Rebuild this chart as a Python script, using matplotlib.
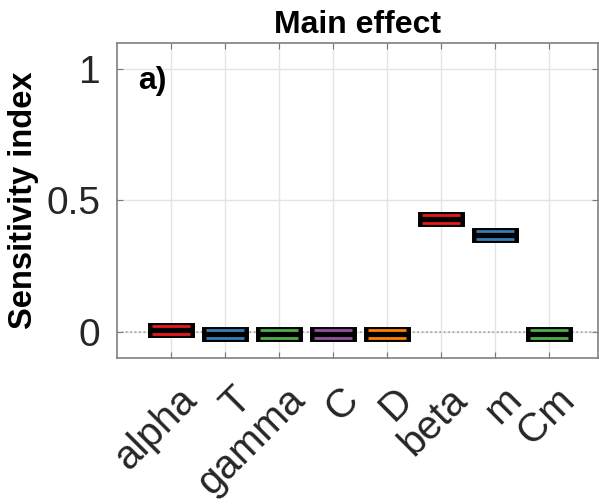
import numpy as np
import matplotlib
matplotlib.use("Agg")
import matplotlib.pyplot as plt
from matplotlib.patches import Rectangle
import matplotlib.transforms as mtransforms

# parameters and the (lower, upper) edges of each box
params = ['alpha', 'T', 'gamma', 'C', 'D', 'beta', 'm', 'Cm']
box_low = [-0.008, -0.023, -0.023, -0.023, -0.023, 0.416, 0.354, -0.023]
box_high = [0.022, 0.005, 0.005, 0.005, 0.005, 0.446, 0.385, 0.005]
colors = ['#e41a1c', '#377eb8', '#4daf4a', '#984ea3', '#ff7f00',
          '#e41a1c', '#377eb8', '#4daf4a']
yticks = [0, 0.5, 1]
yticklabels = ['0', '0.5', '1']

plt.rcParams['font.family'] = ['Liberation Sans', 'DejaVu Sans']

fig = plt.figure(figsize=(5.99, 5.04), dpi=100)
ax = fig.add_axes([0.1953, 0.2897, 0.8030, 0.6250])

ax.set_xlim(0, 8.9)
ax.set_ylim(-0.1, 1.1)

width = 0.74
for i, (lo, hi, c) in enumerate(zip(box_low, box_high, colors)):
    x = i + 1
    ax.add_patch(Rectangle((x - width / 2, lo), width, hi - lo,
                           facecolor='black', edgecolor='black',
                           linewidth=5, zorder=3))
    ax.hlines([lo, hi], x - width / 2 + 0.02, x + width / 2 - 0.02, colors=c,
              linewidth=2.0, zorder=4)

ax.axhline(0, color='#a0a0a0', linestyle=':', linewidth=1.2, zorder=1)

ax.set_xticks(range(1, len(params) + 1))
ax.set_xticklabels(params, rotation=45, ha='right', va='top', fontsize=29)

ax.set_yticks(yticks)
ax.set_yticklabels(yticklabels, fontsize=28)

ax.tick_params(axis='x', direction='in', length=4, pad=16, top=True,
               color='#777777', labelcolor='#262626')
ax.tick_params(axis='y', direction='in', length=4, pad=12, right=True,
               color='#777777', labelcolor='#262626')

# shift the rotated labels to the right, as in the original figure
offset = mtransforms.ScaledTranslation(0.33, 0, fig.dpi_scale_trans)
for lab in ax.get_xticklabels():
    lab.set_transform(lab.get_transform() + offset)

ax.grid(True, color='#e4e4e4', linewidth=1.0, zorder=0)
ax.set_axisbelow(True)
for s in ax.spines.values():
    s.set_color('#808080')
    s.set_linewidth(1.2)

ax.set_title('Main effect', fontsize=23, fontweight='bold', pad=7)
ax.set_ylabel('Sensitivity index', fontsize=23.5, fontweight='bold')
ax.yaxis.set_label_coords(-0.1625, 0.5)

ax.text(0.39, 0.955, 'a)', fontsize=23, fontweight='bold',
        ha='left', va='center')

fig.savefig('out.png', dpi=100)
